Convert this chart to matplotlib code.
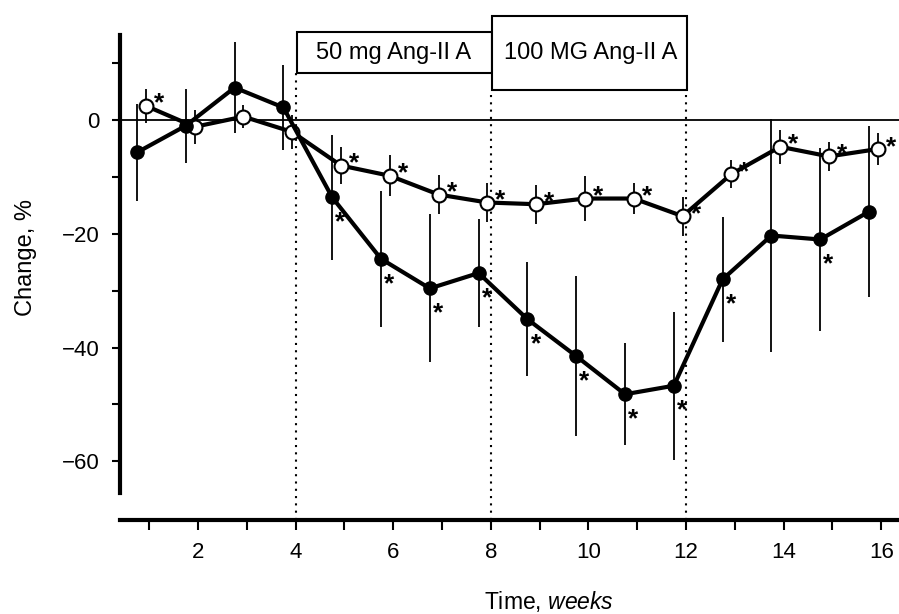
import matplotlib.pyplot as plt
import numpy as np
from matplotlib.patches import Rectangle

plt.rcParams['font.family'] = ['Liberation Sans', 'DejaVu Sans']
plt.rcParams['mathtext.fontset'] = 'custom'
plt.rcParams['mathtext.rm'] = 'Liberation Sans'
plt.rcParams['mathtext.it'] = 'Liberation Sans:italic'

# данные
weeks = np.arange(1, 17)

filled_y = [-5.7, -1.0, 5.7, 2.2, -13.6, -24.4, -29.6, -26.9,
            -35.0, -41.5, -48.2, -46.7, -28.0, -20.3, -21.0, -16.1]
filled_err = [8.5, 6.5, 8.0, 7.5, 11.0, 12.0, 13.0, 9.5,
              10.0, 14.0, 9.0, 13.0, 11.0, 20.5, 16.0, 15.0]
filled_star = [0, 0, 0, 0, 1, 1, 1, 1, 1, 1, 1, 1, 1, 0, 1, 0]

open_y = [2.5, -1.2, 0.6, -2.1, -8.0, -9.8, -13.1, -14.5,
          -14.8, -13.8, -13.8, -16.9, -9.5, -4.7, -6.4, -5.1]
open_err = [3.0, 3.0, 2.0, 3.0, 3.3, 3.6, 3.4, 3.4,
            3.4, 4.0, 2.7, 3.4, 2.5, 3.0, 2.6, 2.8]
open_star = [1, 0, 0, 0, 1, 1, 1, 1, 1, 1, 1, 1, 1, 1, 1, 1]

dose_labels = ["50 mg Ang-II A", "100 MG Ang-II A"]
phase_edges = [4, 8, 12]

x_filled = weeks - 0.25
x_open = weeks - 0.07

fig = plt.figure(figsize=(8.99, 6.14), dpi=100)
ax = fig.add_axes([0.1334, 0.1531, 0.8669, 0.8275])
ax.set_xlim(0.4, 16.37)
ax.set_ylim(-70.3, 19)

ax.axhline(0, color='k', lw=1.3, zorder=1)

# пунктирные линии периодов
tops = [8.2, 5.3, 5.3]
for xe, top in zip(phase_edges, tops):
    ax.plot([xe, xe], [-70.3, top], color='k', lw=1.5, ls=(0, (1, 2.5)), zorder=1)

# рамки с дозами
ax.add_patch(Rectangle((phase_edges[0] + 0.03, 8.2), 4.0, 7.2, fill=True, fc='white',
                       ec='k', lw=1.5, clip_on=False, zorder=5))
ax.add_patch(Rectangle((phase_edges[1] + 0.03, 5.3), 4.0, 13.0, fill=True, fc='white',
                       ec='k', lw=1.5, clip_on=False, zorder=5))
ax.text(6.0, 11.8, dose_labels[0], ha='center', va='center', fontsize=17, zorder=6)
ax.text(10.05, 11.8, dose_labels[1], ha='center', va='center', fontsize=17, zorder=6)

# усы
ax.errorbar(x_filled, filled_y, yerr=filled_err, fmt='none', ecolor='k',
            elinewidth=1.3, capsize=0, zorder=2)
ax.errorbar(x_open, open_y, yerr=open_err, fmt='none', ecolor='k',
            elinewidth=1.3, capsize=0, zorder=2)

# линии
ax.plot(x_open, open_y, '-o', color='k', lw=3, ms=10, mfc='white', mec='k', mew=1.5, zorder=3)
ax.plot(x_filled, filled_y, '-o', color='k', lw=3, ms=9.5, zorder=4)

# звездочки
for xi, yi, s in zip(x_filled, filled_y, filled_star):
    if s:
        ax.annotate('*', (xi, yi), xytext=(6, -18), textcoords='offset points',
                    ha='center', va='center', fontsize=19, fontweight='bold', zorder=6)
for xi, yi, s in zip(x_open, open_y, open_star):
    if s:
        ax.annotate('*', (xi, yi), xytext=(9.5, 1.5), textcoords='offset points',
                    ha='center', va='center', fontsize=19, fontweight='bold', zorder=6)

# оси
ax.spines['top'].set_visible(False)
ax.spines['right'].set_visible(False)
ax.spines['left'].set_linewidth(3)
ax.spines['left'].set_bounds(-65.5, 15)
ax.spines['bottom'].set_linewidth(3)

ax.set_xticks(range(2, 17, 2))
ax.set_xticks(range(1, 17, 2), minor=True)
ax.set_yticks([-60, -40, -20, 0])
ax.set_yticks([-50, -30, -10, 10], minor=True)
ax.tick_params(axis='x', which='both', length=7, width=1.5, pad=9, labelsize=16)
ax.tick_params(axis='y', which='both', length=6, width=1.5, pad=8.5, labelsize=16)

ax.set_xlabel('Time, $\\mathit{weeks}$', fontsize=16.5)
ax.xaxis.set_label_coords(0.551, -0.135)
ax.set_ylabel('Change, %', fontsize=17)
ax.yaxis.set_label_coords(-0.106, 0.516)

plt.savefig('out.png', dpi=100)
